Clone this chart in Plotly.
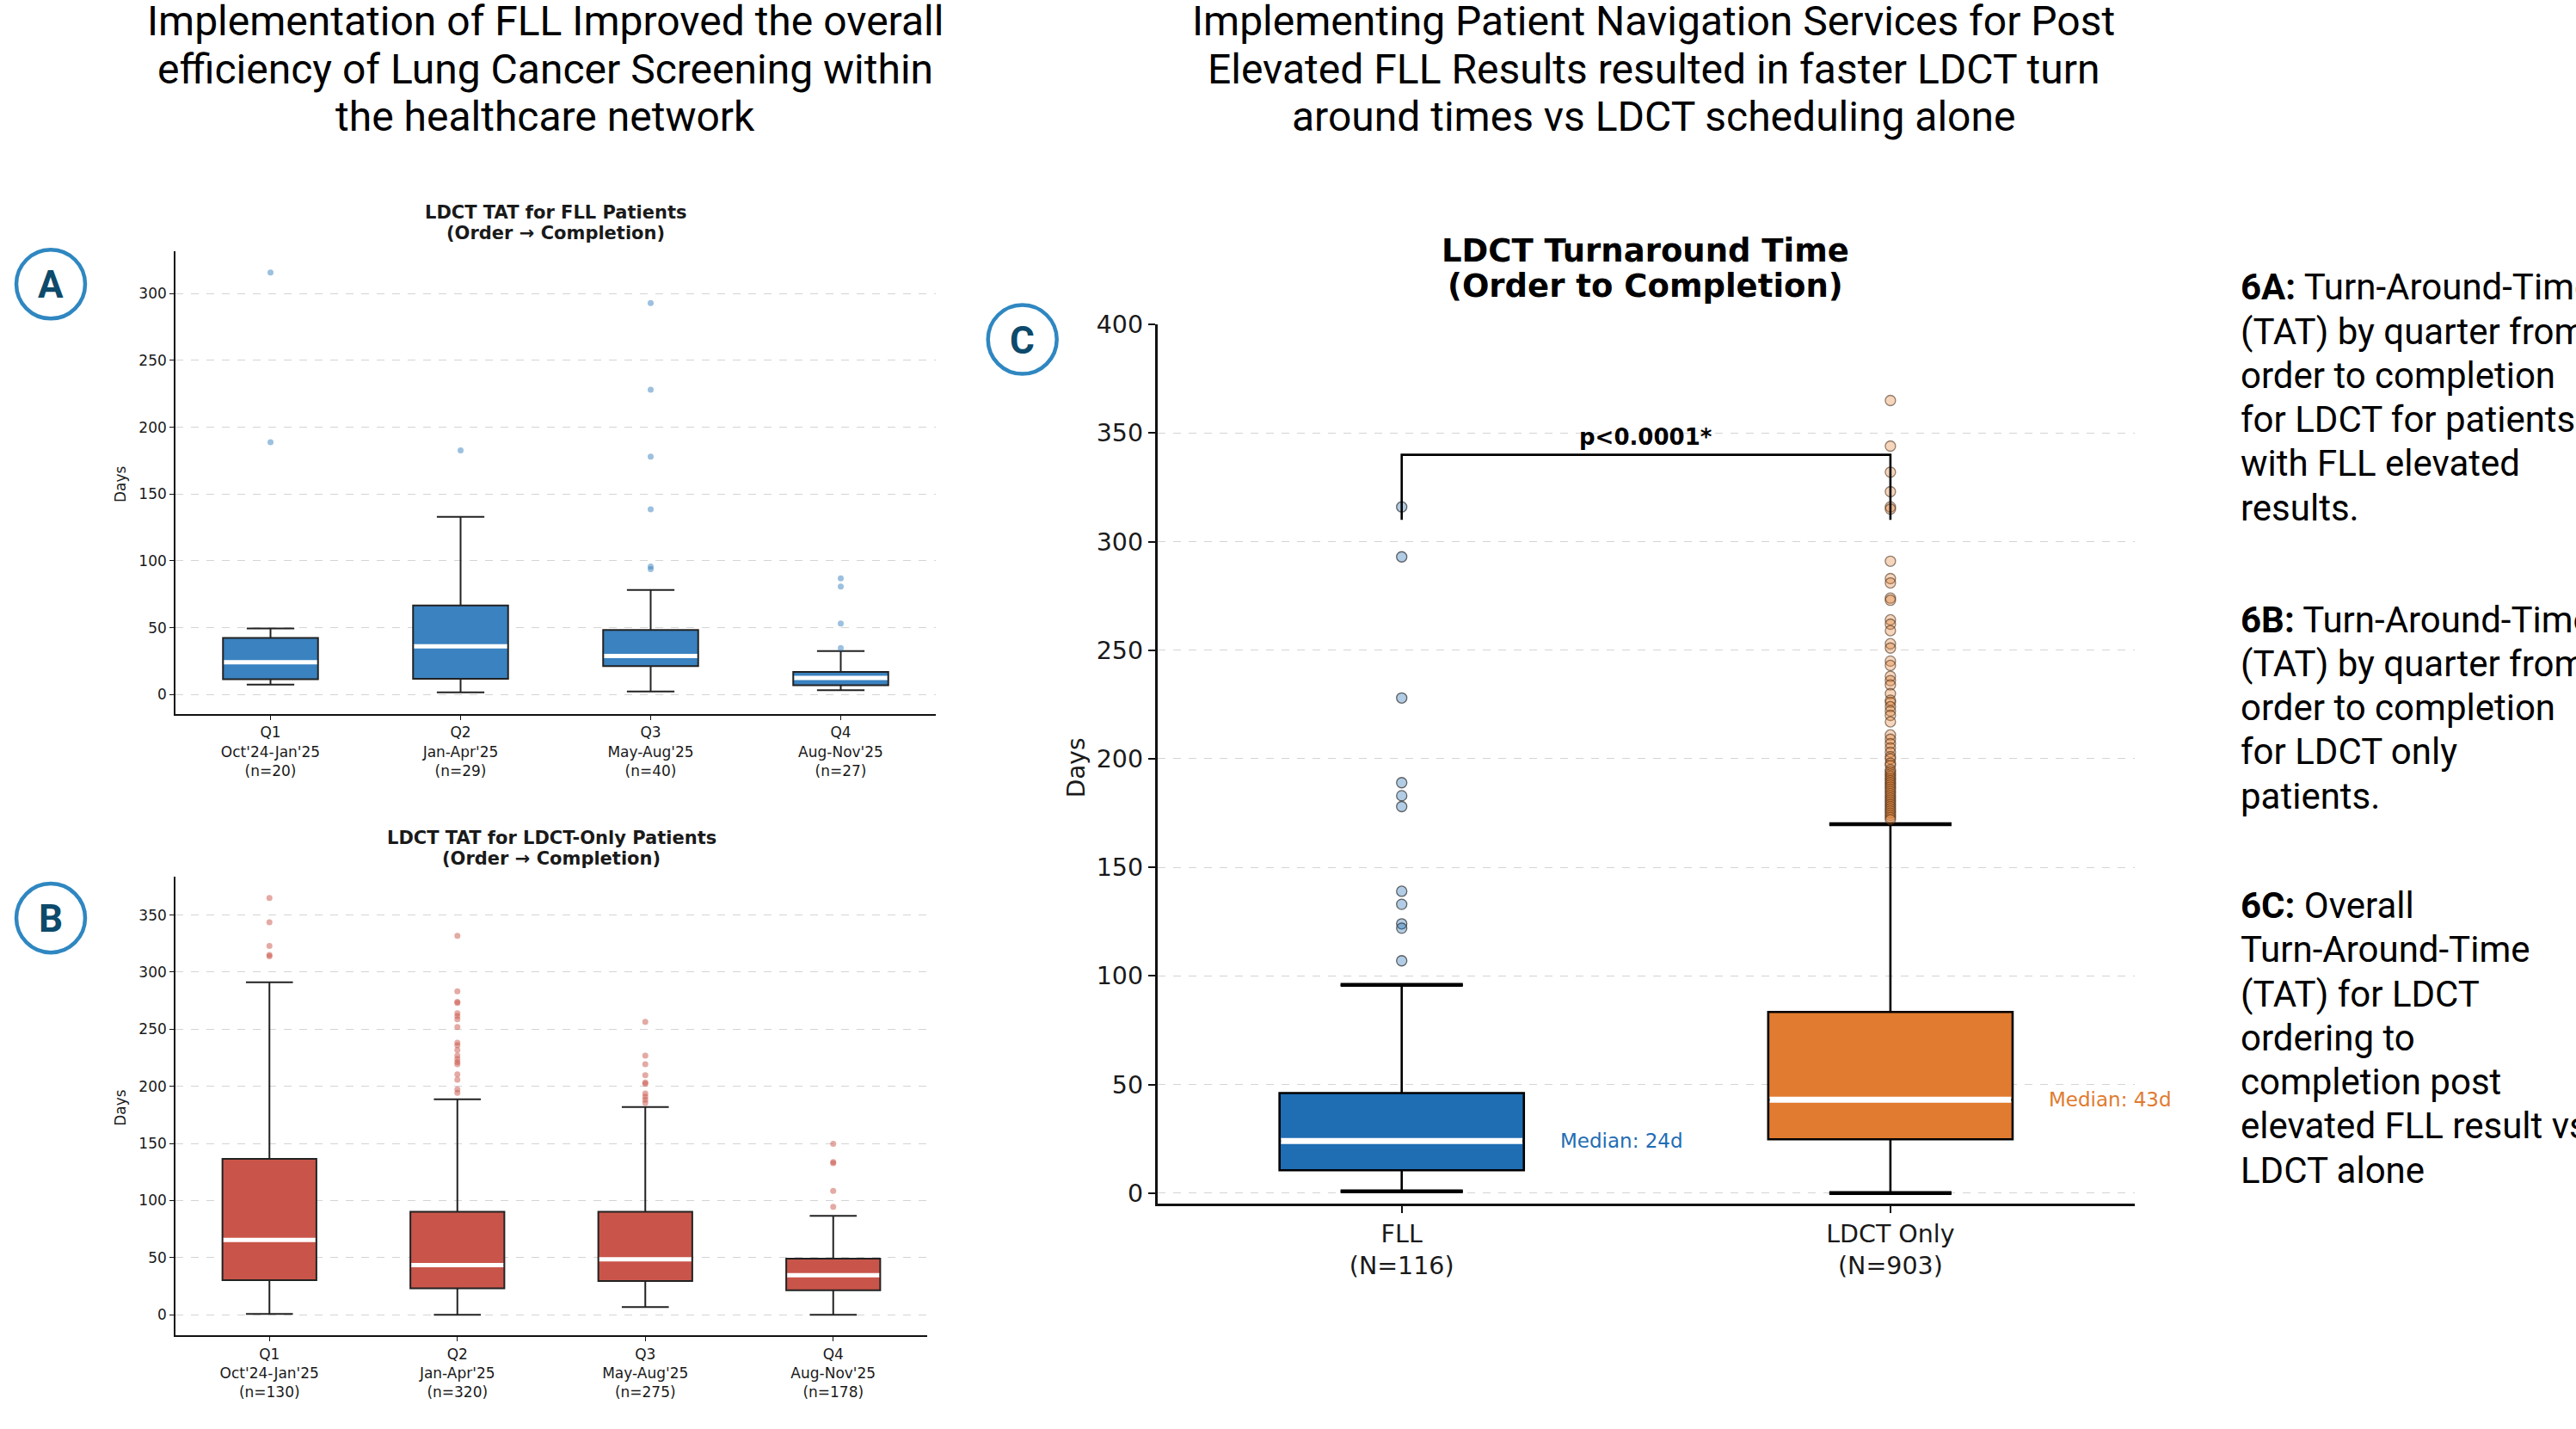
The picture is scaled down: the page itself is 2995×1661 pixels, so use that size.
import plotly.graph_objects as go

W, H = 2995, 1661

# ---------------- data ----------------
quarter_labels_fll = ["Q1<br>Oct'24-Jan'25<br>(n=20)", "Q2<br>Jan-Apr'25<br>(n=29)",
                      "Q3<br>May-Aug'25<br>(n=40)", "Q4<br>Aug-Nov'25<br>(n=27)"]
quarter_labels_ldct = ["Q1<br>Oct'24-Jan'25<br>(n=130)", "Q2<br>Jan-Apr'25<br>(n=320)",
                       "Q3<br>May-Aug'25<br>(n=275)", "Q4<br>Aug-Nov'25<br>(n=178)"]

# FLL patients, per quarter (days)
fll_low = [7.5, 1.7, 2.3, 3.2]
fll_q1 = [11.5, 11.8, 21.3, 6.9]
fll_med = [24.2, 36.0, 28.8, 12.4]
fll_q3 = [42.3, 66.7, 48.3, 17.0]
fll_high = [49.5, 133.0, 78.2, 32.5]
fll_out = [[315.8, 188.7],
           [182.6],
           [292.8, 228.0, 178.0, 138.6, 95.8, 93.8],
           [86.9, 80.8, 53.2, 34.8]]

# LDCT-only patients, per quarter (days)
ldct_low = [0.7, 0.0, 6.8, 0.0]
ldct_q1 = [30.3, 23.2, 29.6, 21.4]
ldct_med = [65.6, 43.5, 48.5, 34.6]
ldct_q3 = [136.6, 90.3, 90.3, 49.2]
ldct_high = [291.1, 188.7, 182.0, 86.7]
ldct_out = [[365.0, 343.6, 322.9, 315.0, 314.0],
            [331.8, 283.3, 274.0, 273.0, 264.0, 261.5, 258.7, 252.0, 238.3, 236.0,
             231.9, 227.0, 224.0, 221.2, 219.4, 210.5, 205.9, 197.3, 194.4],
            [256.5, 226.9, 219.4, 209.8, 203.4, 202.3, 193.7, 190.9, 188.4, 185.5],
            [149.8, 133.8, 132.7, 108.5, 94.5]]

# Overall comparison
group_labels = ["FLL<br>(N=116)", "LDCT Only<br>(N=903)"]
all_low = [0.8, 0.0]
all_q1 = [10.5, 24.8]
all_med = [24, 43]
all_q3 = [46.1, 83.4]
all_high = [95.9, 169.9]
all_out_fll = [316, 293, 228, 189, 183, 178, 139, 133, 124, 122, 107]
all_out_ldct = [365, 344, 332, 323, 316, 315, 291, 283, 281, 274, 273, 264, 262, 259, 253,
                251, 245, 243, 238, 236, 234, 230, 227, 226, 224, 222, 220, 217, 211, 209,
                207, 205, 203, 201, 200, 198, 197, 195, 194, 193, 192, 191, 190, 189, 188,
                187, 186, 185, 184, 183, 182, 181, 180, 179, 178, 177, 176, 175, 174, 173, 172]
p_text = "p<0.0001*"
bracket_low, bracket_high = 310, 340

header_left = ["Implementation of FLL Improved the overall",
               "efficiency of Lung Cancer Screening within",
               "the healthcare network"]
header_right = ["Implementing Patient Navigation Services for Post",
                "Elevated FLL Results resulted in faster LDCT turn",
                "around times vs LDCT scheduling alone"]
notes = [
    ("6A:", ["Turn-Around-Time", "(TAT) by quarter from", "order to completion",
             "for LDCT for patients", "with FLL elevated", "results."]),
    ("6B:", ["Turn-Around-Time", "(TAT) by quarter from", "order to completion",
             "for LDCT only", "patients."]),
    ("6C:", ["Overall", "Turn-Around-Time", "(TAT) for LDCT", "ordering to",
             "completion post", "elevated FLL result vs", "LDCT alone"]),
]

# ---------------- styling ----------------
BLUE_Q = "#3a82c0"
RED_Q = "#c9554a"
BLUE_C = "#1f6db3"
ORANGE_C = "#e07b30"
MPL = "DejaVu Sans"
SANS = "Roboto"
INK = "#1a1a1a"


def px(x):
    return x / W


def py(y):
    # pixel row (from top) -> paper fraction, with a small calibration for the page offset
    return 1 - ((y - 14.5) / 0.987) / H


fig = go.Figure()


def quarter_panel(xa, ya, color, low, q1, med, q3, high, outs, dot_color):
    pos = [1, 2, 3, 4]
    fig.add_trace(go.Box(
        x=pos, q1=q1, median=med, q3=q3, lowerfence=low, upperfence=high,
        width=0.5, whiskerwidth=0.5, fillcolor=color,
        line=dict(color="#222222", width=2), boxpoints=False,
        xaxis=xa, yaxis=ya, showlegend=False, hoverinfo="skip"))
    mx, my = [], []
    for p, m in zip(pos, med):
        mx += [p - 0.245, p + 0.245, None]
        my += [m, m, None]
    fig.add_trace(go.Scatter(x=mx, y=my, mode="lines", line=dict(color="white", width=5),
                             xaxis=xa, yaxis=ya, showlegend=False, hoverinfo="skip"))
    ox, oy = [], []
    for p, vals in zip(pos, outs):
        ox += [p] * len(vals)
        oy += vals
    fig.add_trace(go.Scatter(x=ox, y=oy, mode="markers",
                             marker=dict(size=7, color=dot_color, line=dict(width=0)),
                             xaxis=xa, yaxis=ya, showlegend=False, hoverinfo="skip"))


quarter_panel("x", "y", BLUE_Q, fll_low, fll_q1, fll_med, fll_q3, fll_high, fll_out,
              "rgba(58,130,192,0.5)")
quarter_panel("x2", "y2", RED_Q, ldct_low, ldct_q1, ldct_med, ldct_q3, ldct_high, ldct_out,
              "rgba(201,85,74,0.5)")

# ---- overall comparison panel ----
c_colors = [BLUE_C, ORANGE_C]
for i in range(2):
    p = i + 1
    fig.add_trace(go.Box(
        x=[p], q1=[all_q1[i]], median=[all_med[i]], q3=[all_q3[i]],
        lowerfence=[all_low[i]], upperfence=[all_high[i]],
        width=0.5, whiskerwidth=0.5, fillcolor=c_colors[i],
        line=dict(color="#000000", width=2.6), boxpoints=False,
        xaxis="x3", yaxis="y3", showlegend=False, hoverinfo="skip"))
# heavier whisker caps
cx, cy = [], []
for i in range(2):
    p = i + 1
    for v in (all_low[i], all_high[i]):
        cx += [p - 0.125, p + 0.125, None]
        cy += [v, v, None]
fig.add_trace(go.Scatter(x=cx, y=cy, mode="lines", line=dict(color="#000000", width=4.5),
                         xaxis="x3", yaxis="y3", showlegend=False, hoverinfo="skip"))
# white median bars
mx, my = [], []
for i in range(2):
    p = i + 1
    mx += [p - 0.247, p + 0.247, None]
    my += [all_med[i], all_med[i], None]
fig.add_trace(go.Scatter(x=mx, y=my, mode="lines", line=dict(color="white", width=7),
                         xaxis="x3", yaxis="y3", showlegend=False, hoverinfo="skip"))
# outliers
fig.add_trace(go.Scatter(x=[1] * len(all_out_fll), y=all_out_fll, mode="markers",
                         marker=dict(size=12, color="rgba(31,109,179,0.35)",
                                     line=dict(color="rgba(40,40,40,0.7)", width=1.3)),
                         xaxis="x3", yaxis="y3", showlegend=False, hoverinfo="skip"))
fig.add_trace(go.Scatter(x=[2] * len(all_out_ldct), y=all_out_ldct, mode="markers",
                         marker=dict(size=12, color="rgba(224,123,48,0.32)",
                                     line=dict(color="rgba(60,35,15,0.55)", width=1.3)),
                         xaxis="x3", yaxis="y3", showlegend=False, hoverinfo="skip"))
# significance bracket
fig.add_trace(go.Scatter(x=[1, 1, 2, 2], y=[bracket_low, bracket_high, bracket_high, bracket_low],
                         mode="lines", line=dict(color="#000000", width=2.6),
                         xaxis="x3", yaxis="y3", showlegend=False, hoverinfo="skip"))


# ---------------- axes ----------------
def xax(domain, rng, vals, text, size, lw, tl):
    return dict(domain=domain, range=rng, tickvals=vals, ticktext=text,
                showline=True, linecolor="#111111", linewidth=lw, ticks="outside",
                ticklen=tl, tickwidth=lw * 0.8, tickcolor="#111111", showgrid=False,
                zeroline=False, fixedrange=True,
                tickfont=dict(family=MPL, size=size, color=INK))


def yax(domain, rng, vals, size, lw, tl, anchor):
    return dict(domain=domain, range=rng, tickvals=vals, anchor=anchor,
                showline=True, linecolor="#111111", linewidth=lw, ticks="outside",
                ticklen=tl, tickwidth=lw * 0.8, tickcolor="#111111", showgrid=True,
                gridcolor="#d4d4d4", gridwidth=1, griddash="dash",
                zeroline=False, fixedrange=True,
                tickfont=dict(family=MPL, size=size, color=INK))


fig.update_layout(
    width=W, height=H, margin=dict(l=0, r=0, t=0, b=0),
    paper_bgcolor="white", plot_bgcolor="white", showlegend=False,
    xaxis=dict(**xax([px(204), px(1088)], [0.5, 4.5], [1, 2, 3, 4], quarter_labels_fll, 17, 1.6, 5), anchor="y"),
    yaxis=yax([py(828), py(290)], [-14.8, 331.8], list(range(0, 301, 50)), 17, 1.6, 5, "x"),
    xaxis2=dict(**xax([px(204), px(1078)], [0.5, 4.5], [1, 2, 3, 4], quarter_labels_ldct, 17, 1.6, 5), anchor="y2"),
    yaxis2=yax([py(1549.5), py(1017)], [-18.25, 383.25], list(range(0, 351, 50)), 17, 1.6, 5, "x2"),
    xaxis3=dict(**xax([px(1345.6), px(2482)], [0.5, 2.5], [1, 2], group_labels, 28.5, 2.6, 8), anchor="y3"),
    yaxis3=yax([py(1396.6), py(375.3)], [-5, 400], list(range(0, 401, 50)), 28.5, 2.6, 8, "x3"),
)

ann = []


def text_at(x, y, s, size, family=SANS, color=INK, xanchor="center", yanchor="middle", angle=0):
    ann.append(dict(x=px(x), y=py(y), xref="paper", yref="paper", text=s, showarrow=False,
                    xanchor=xanchor, yanchor=yanchor, textangle=angle,
                    font=dict(family=family, size=size, color=color)))


# headers
for i, line in enumerate(header_left):
    text_at(634, 23 + i * 55.5, line, 48, color="#000000")
for i, line in enumerate(header_right):
    text_at(1922, 23 + i * 55.5, line, 48, color="#000000")

# side notes
y0s = [332, 718, 1050]
for (tag, lines), y0 in zip(notes, y0s):
    for j, line in enumerate(lines):
        s = f"<b>{tag}</b> {line}" if j == 0 else line
        text_at(2603, y0 + j * 51.2, s, 42, color="#000000", xanchor="left")

# panel titles
text_at(646, 245, "<b>LDCT TAT for FLL Patients</b>", 21, family=MPL)
text_at(646, 269, "<b>(Order → Completion)</b>", 21, family=MPL)
text_at(641, 972, "<b>LDCT TAT for LDCT-Only Patients</b>", 21, family=MPL)
text_at(641, 996, "<b>(Order → Completion)</b>", 21, family=MPL)
text_at(1913, 290, "<b>LDCT Turnaround Time</b>", 37, family=MPL, color="#000000")
text_at(1913, 331, "<b>(Order to Completion)</b>", 37, family=MPL, color="#000000")

# y axis titles
text_at(140, 561, "Days", 17, family=MPL, angle=-90)
text_at(140, 1285, "Days", 17, family=MPL, angle=-90)
text_at(1251, 890, "Days", 28, family=MPL, angle=-90)

# median labels and p-value on the overall panel
for i, (c, m) in enumerate(zip(c_colors, all_med)):
    ann.append(dict(x=i + 1 + 0.32, y=m, xref="x3", yref="y3", text=f"Median: {m}d",
                    showarrow=False, xanchor="left", yanchor="middle",
                    font=dict(family=MPL, size=23, color=c)))
ann.append(dict(x=1.5, y=348, xref="x3", yref="y3", text=f"<b>{p_text}</b>",
                showarrow=False, xanchor="center", yanchor="middle",
                font=dict(family=MPL, size=26, color="#000000")))

# panel letter badges
shapes = []
for letter, (cxp, cyp) in zip("ABC", [(59, 328.5), (59, 1064.6), (1188.7, 392.7)]):
    shapes.append(dict(type="circle", xref="paper", yref="paper",
                       x0=px(cxp - 40), x1=px(cxp + 40), y0=py(cyp + 40), y1=py(cyp - 40),
                       line=dict(color="#2f87c1", width=4.5), fillcolor="rgba(0,0,0,0)"))
    text_at(cxp, cyp + 1, f"<b>{letter}</b>", 44, family=SANS, color="#0d4a6b")

fig.update_layout(annotations=ann, shapes=shapes)

fig.write_html("out.html")
